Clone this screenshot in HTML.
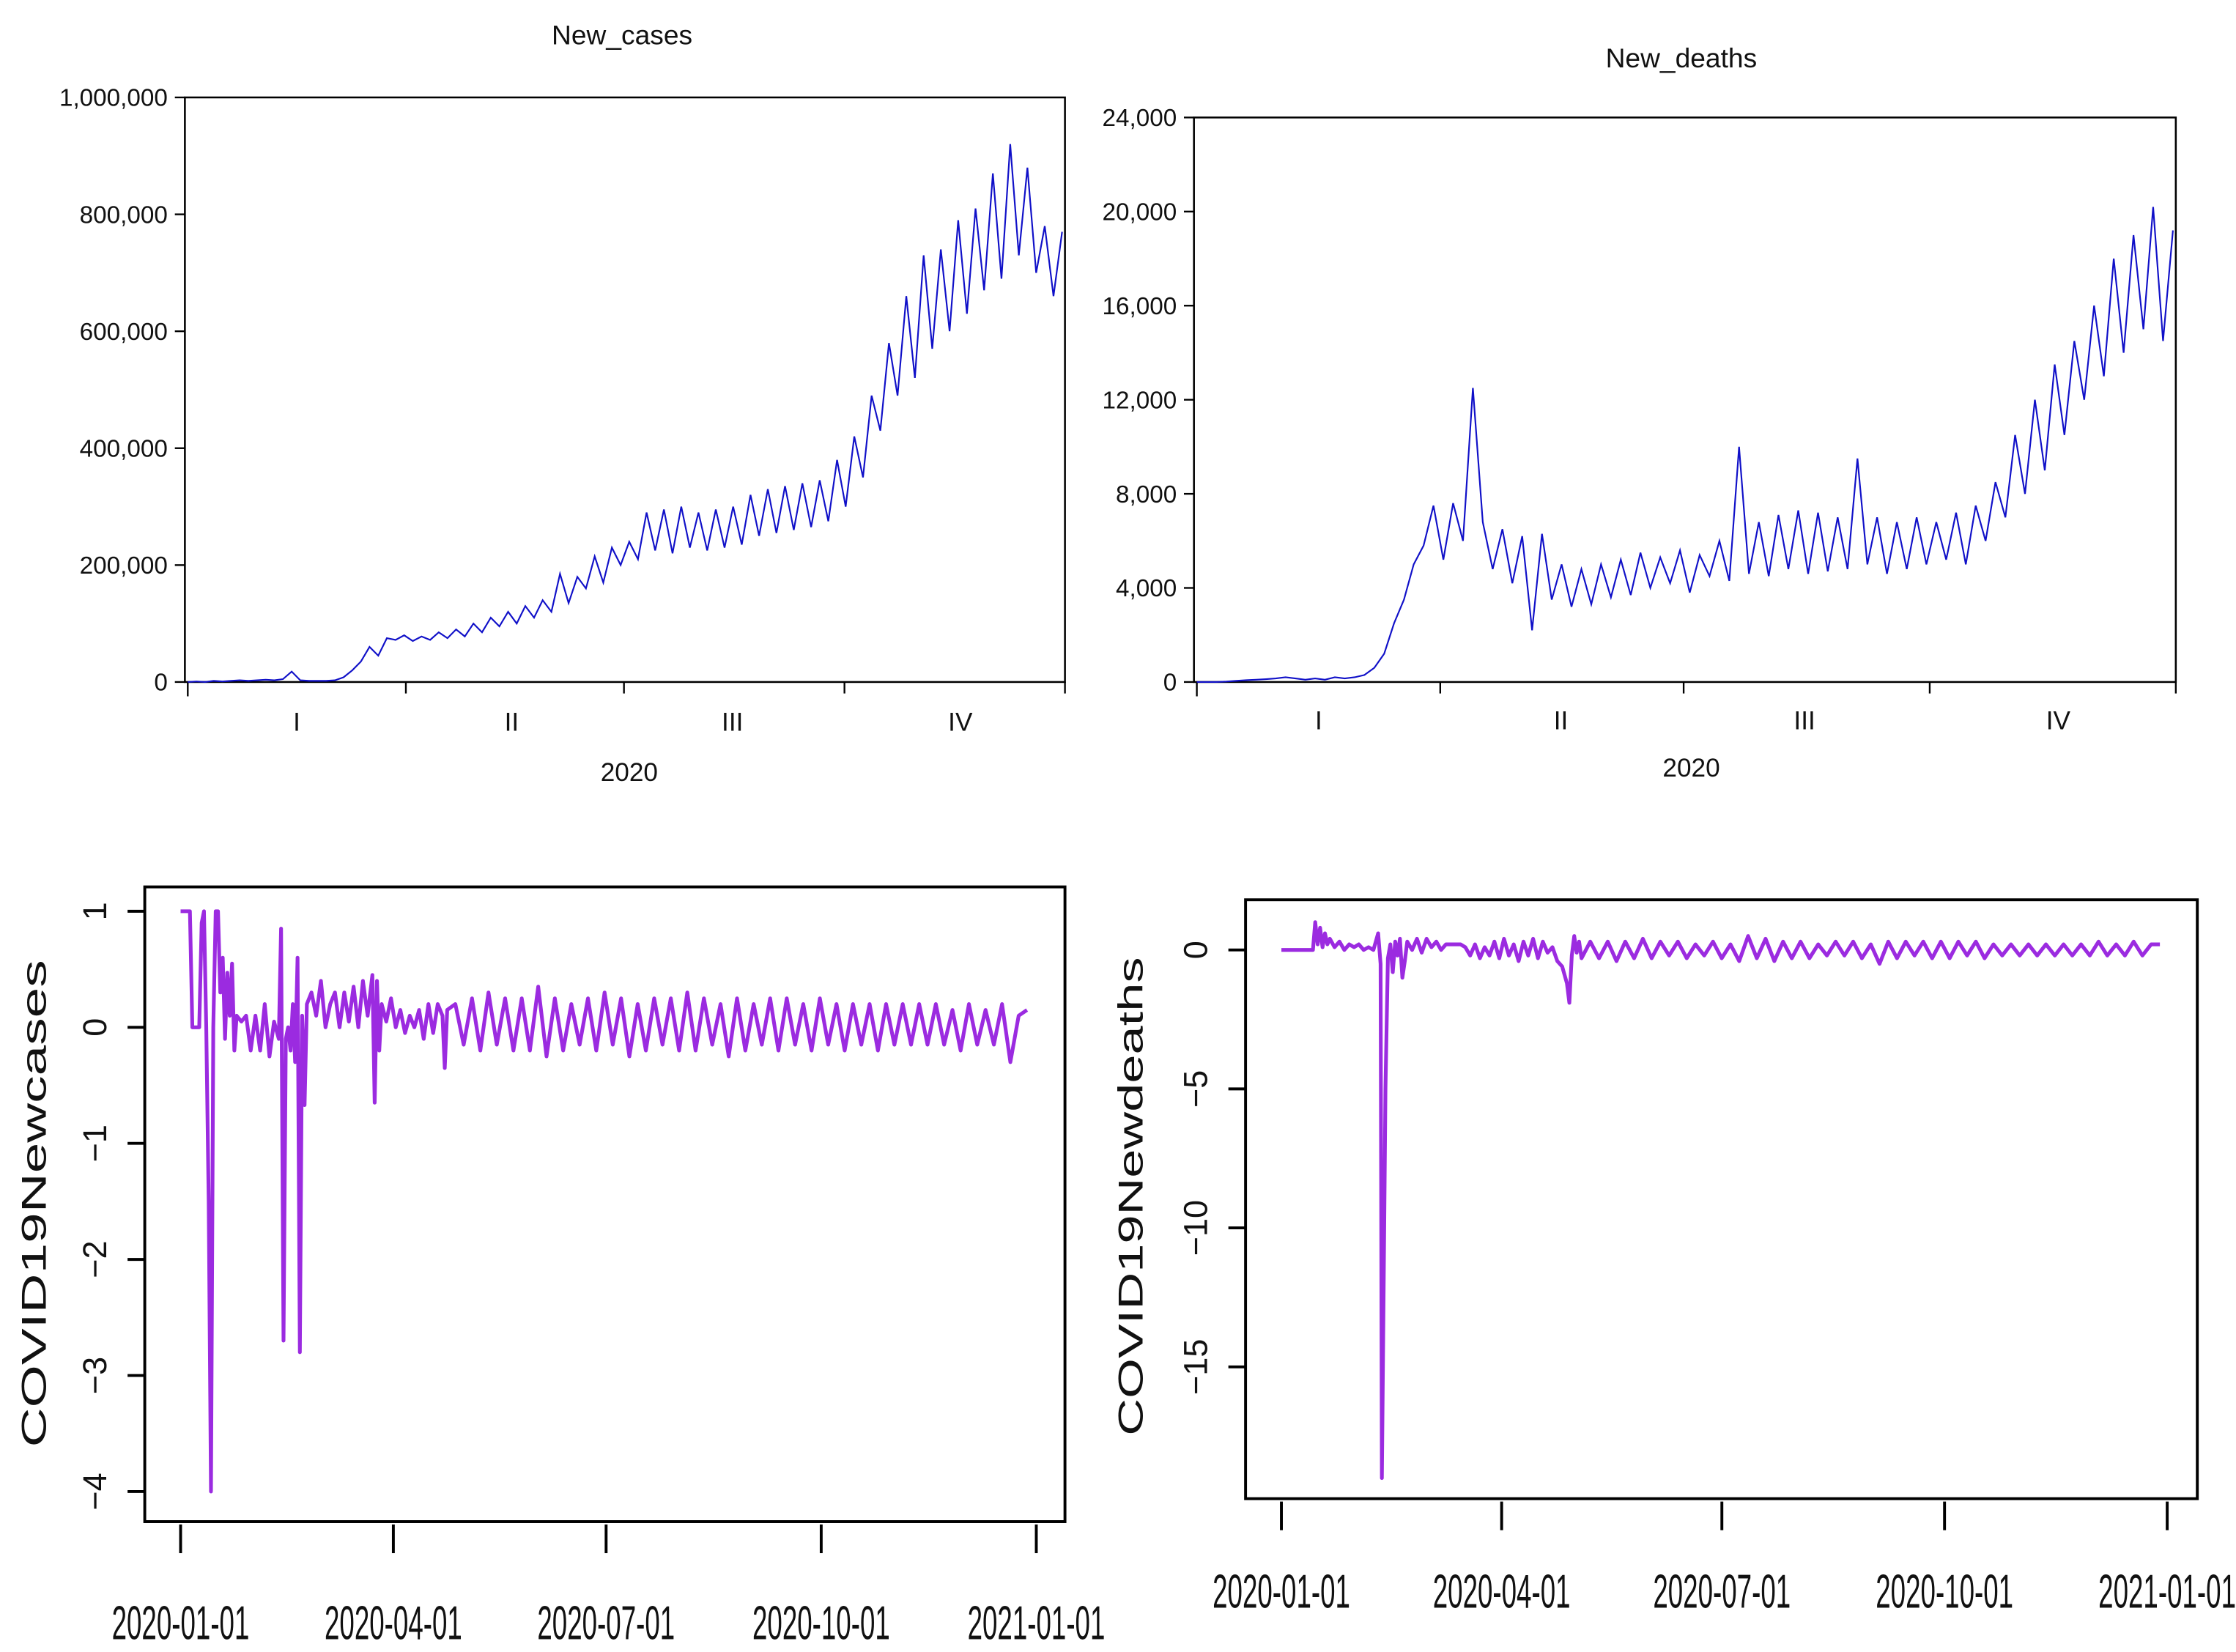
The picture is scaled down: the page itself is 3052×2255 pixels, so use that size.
<!DOCTYPE html>
<html><head><meta charset="utf-8"><title>COVID-19 charts</title>
<style>html,body{margin:0;padding:0;background:#fff}svg{display:block}text{font-family:"Liberation Sans",sans-serif;fill:#111}</style>
</head><body>
<svg id="fig" xmlns="http://www.w3.org/2000/svg" width="3052" height="2255" viewBox="0 0 1560 1153" preserveAspectRatio="none">
<rect width="1560" height="1153" fill="#fff"/>
<g id="p1"></g>
<g id="p2"></g>
<g id="p3"></g>
<g id="p4"></g>
</svg>
<script>
// ---- data ----
const casesVals = [0,1,0,2,1,2,3,2,3,4,3,5,18,3,2,2,2,3,8,20,35,60,45,75,72,80,70,78,72,85,75,90,78,100,85,110,95,120,100,130,110,140,120,185,135,180,160,215,170,230,200,240,210,290,225,295,220,300,230,290,225,295,230,300,235,320,250,330,255,335,260,340,265,345,275,380,300,420,350,490,430,580,490,660,520,730,570,740,600,790,630,810,670,870,690,920,730,880,700,780,660,770];
const casesTicks = [0,200000,400000,600000,800000,1000000];
const casesTickLabels = ["0","200,000","400,000","600,000","800,000","1,000,000"];
const deathsVals = [0,0,0,20,50,80,100,120,150,200,150,100,150,100,200,150,200,300,600,1200,2500,3500,5000,5800,7500,5200,7600,6000,12500,6800,4800,6500,4200,6200,2200,6300,3500,5000,3200,4800,3300,5000,3600,5200,3700,5500,4000,5300,4200,5600,3800,5400,4500,6000,4300,10000,4600,6800,4500,7100,4800,7300,4600,7200,4700,7000,4800,9500,5000,7000,4600,6800,4800,7000,5000,6800,5200,7200,5000,7500,6000,8500,7000,10500,8000,12000,9000,13500,10500,14500,12000,16000,13000,18000,14000,19000,15000,20200,14500,19200];
const deathsTicks = [0,4000,8000,12000,16000,20000,24000];
const deathsTickLabels = ["0","4,000","8,000","12,000","16,000","20,000","24,000"];
const quarterLabels = ["I","II","III","IV"];
const quarterStartDays = [0,91,182,274,366];
const dateLabels = ["2020-01-01","2020-04-01","2020-07-01","2020-10-01","2021-01-01"];
const dateTickDays = [0,91,182,274,366];
const ncDays = [0,4,5,8,9,10,11,12,13,14,15,16,17,18,19,20,21,22,23,24,26,28,30,32,34,36,38,40,42,43,44,45,46,47,48,49,50,51,52,53,54,56,58,60,62,64,66,68,70,72,74,76,78,80,82,83,84,85,86,88,90,92,94,96,98,100,102,104,106,108,110,112,113,114];
const ncVals = [1,1,0,0,0.9,1,0,-1.5,-4,0,1,1,0.3,0.6,-0.1,0.47,0.1,0.55,-0.2,0.1,0.05,0.1,-0.2,0.1,-0.2,0.2,-0.25,0.05,-0.1,0.85,-2.7,-0.1,0,-0.2,0.2,-0.3,0.6,-2.8,0.1,-0.67,0.2,0.3,0.1,0.4,0,0.2,0.3,0,0.3,0.05,0.35,0,0.4,0.1,0.45,-0.65,0.4,-0.2,0.2,0.05,0.25,0,0.15,-0.05,0.1,0,0.15,-0.1,0.2,-0.05,0.2,0.1,-0.35,0.15];
const ncTailVals = [0.2,-0.15,0.25,-0.2,0.3,-0.15,0.25,-0.2,0.25,-0.2,0.35,-0.25,0.25,-0.2,0.2,-0.15,0.25,-0.2,0.3,-0.15,0.25,-0.25,0.2,-0.2,0.25,-0.15,0.25,-0.2,0.3,-0.2,0.25,-0.15,0.2,-0.25,0.25,-0.2,0.2,-0.15,0.25,-0.2,0.25,-0.15,0.2,-0.2,0.25,-0.15,0.2,-0.2,0.2,-0.15,0.2,-0.2,0.2,-0.15,0.2,-0.15,0.2,-0.15,0.2,-0.15,0.15,-0.2,0.2,-0.15,0.15,-0.15,0.2,-0.3,0.1,0.15];
const ncTicks = [1,0,-1,-2,-3,-4];
const ndDays = [0,13,14,15,16,17,18,19,20,22,24,26,28,30,32,34,36,38,40,41,41.5,42.5,43,44,45,46,47,48,49,50,51,52,54,56,58,60,62,64,66,68,70,72,74,76,78,80,82,84,86,88,90,92,94,96,98,100,102,104,106,108,110,112,114,116,118,119,120,121,122,123,124];
const ndVals = [0,0,1,0.2,0.8,0.1,0.6,0.2,0.4,0.1,0.3,0,0.2,0.1,0.2,0,0.1,0,0.6,-0.5,-19,-9.6,-5,-0.3,0.2,-0.8,0.3,-0.2,0.4,-1,-0.4,0.3,0,0.4,-0.1,0.4,0.1,0.3,0,0.2,0.2,0.2,0.2,0.1,-0.2,0.2,-0.3,0.1,-0.2,0.3,-0.3,0.4,-0.2,0.2,-0.4,0.3,-0.2,0.4,-0.3,0.3,-0.1,0.1,-0.4,-0.6,-1.2,-1.9,-0.2,0.5,-0.1,0.3,-0.3];
const ndTailVals = [0.3,-0.3,0.3,-0.4,0.3,-0.3,0.4,-0.3,0.3,-0.2,0.3,-0.3,0.2,-0.2,0.3,-0.3,0.2,-0.4,0.5,-0.3,0.4,-0.4,0.3,-0.3,0.3,-0.3,0.2,-0.2,0.3,-0.2,0.3,-0.3,0.2,-0.5,0.3,-0.3,0.3,-0.2,0.3,-0.3,0.3,-0.3,0.3,-0.2,0.3,-0.3,0.2,-0.2,0.2,-0.2,0.2,-0.2,0.2,-0.2,0.2,-0.2,0.2,-0.2,0.3,-0.2,0.2,-0.2,0.3,-0.2,0.2,0.2];
const ndTicks = [0,-5,-10,-15];

const NS = "http://www.w3.org/2000/svg";
function mk(parent, tag, attrs, txt){
  const e = document.createElementNS(NS, tag);
  for (const k in attrs) e.setAttribute(k, attrs[k]);
  if (txt !== undefined) e.textContent = txt;
  parent.appendChild(e);
  return e;
}
function lin(d0,d1,r0,r1){ return v => r0 + (v-d0)/(d1-d0)*(r1-r0); }

// ---------- Top panels ----------
function topPanel(g, o){
  const X = lin(0,365,o.x0+2,o.x1-2), Y = lin(0,o.ymax,o.yb,o.yt);
  let e = mk(g,'rect',{x:o.x0,y:o.yt,width:o.x1-o.x0,height:o.yb-o.yt,fill:'none',stroke:'#000','stroke-width':1.3});
  
  
  e = mk(g,'text',{x:o.tx,y:o.ty,'text-anchor':'middle','font-size':19},o.title);
  
  
  o.ticks.forEach((t,i)=>{
    const y = Y(t);
    let l = mk(g,'line',{x1:o.x0-7,x2:o.x0,y1:y,y2:y,stroke:'#000','stroke-width':1.2});
    
    
    let t2 = mk(g,'text',{x:o.x0-12,y:y+6,'text-anchor':'end','font-size':17},o.labels[i]);
    
    
  });
  const QX = lin(0,366,o.x0+2,o.x1);
  quarterStartDays.forEach((d,i)=>{
    const x = QX(d);
    let l = mk(g,'line',{x1:x,x2:x,y1:o.yb,y2:o.yb+(i==0?10:8),stroke:'#000','stroke-width':1.2});
    
    
    if (i<4){
      const xm = o.qlx[i];
      let t = mk(g,'text',{x:xm,y:o.qly,'text-anchor':'middle','font-size':18},quarterLabels[i]);
      
      
    }
  });
  e = mk(g,'text',{x:o.yrx,y:o.yry,'text-anchor':'middle','font-size':18},'2020');
  
  
  const n = o.vals.length;
  const pts = o.vals.map((v,i)=>X(i*365/(n-1)).toFixed(1)+','+Y(v*o.mult).toFixed(1)).join(' ');
  e = mk(g,'polyline',{points:pts,fill:'none',stroke:'#1010c8','stroke-width':1.1});
  
  
}
topPanel(document.getElementById('p1'),{x0:129,x1:743,yt:68,yb:476,ymax:1000000,ticks:casesTicks,labels:casesTickLabels,
  title:'New_cases',tx:434,ty:31,vals:casesVals,mult:1000,qlx:[207,357,511,670],qly:510,yrx:439,yry:545});
topPanel(document.getElementById('p2'),{x0:833,x1:1518,yt:82,yb:476,ymax:24000,ticks:deathsTicks,labels:deathsTickLabels,
  title:'New_deaths',tx:1173,ty:47,vals:deathsVals,mult:1,qlx:[920,1089,1259,1436],qly:509,yrx:1180,yry:542});

// ---------- Bottom panels ----------
function botPanel(g, o){
  const X = lin(0,366,o.dx0,o.dx1), Y = lin(o.v0,o.v1,o.y0,o.y1);
  let e = mk(g,'rect',{x:o.x0,y:o.yt,width:o.x1-o.x0,height:o.yb-o.yt,fill:'none',stroke:'#000','stroke-width':2});
  
  
  o.ticks.forEach(t=>{
    const y = Y(t);
    let l = mk(g,'line',{x1:o.x0-12,x2:o.x0,y1:y,y2:y,stroke:'#000','stroke-width':2});
    
    
    let tx = mk(g,'text',{x:o.ylx,y:y,'text-anchor':'middle','font-size':23,transform:`rotate(-90 ${o.ylx} ${y})`},String(t).replace('-','\u2212'));
    
    
  });
  dateTickDays.forEach((d,i)=>{
    const x = X(d);
    let l = mk(g,'line',{x1:x,x2:x,y1:o.yb+2,y2:o.yb+22,stroke:'#000','stroke-width':2});
    
    
    let t = mk(g,'text',{x:x,y:o.dly,'text-anchor':'middle','font-size':33,textLength:96,lengthAdjust:'spacingAndGlyphs'},dateLabels[i]);
    
    
  });
  e = mk(g,'text',{x:o.tlx,y:o.tly,'text-anchor':'middle','font-size':24,textLength:o.tlen,lengthAdjust:'spacingAndGlyphs',transform:`rotate(-90 ${o.tlx} ${o.tly})`},o.title);
  
  
  const days = o.days.slice(), vals = o.vals.slice();
  const last = days[days.length-1], n = o.tail.length;
  o.tail.forEach((v,i)=>{ days.push(last + (i+1)*(o.tailEnd-last)/n); vals.push(v); });
  const pts = days.map((d,i)=>X(d).toFixed(1)+','+Y(vals[i]).toFixed(1)).join(' ');
  e = mk(g,'polyline',{points:pts,fill:'none',stroke:'#9b2be0','stroke-width':2.6,'stroke-linejoin':'round'});
  
  
}
botPanel(document.getElementById('p3'),{x0:101,x1:743,yt:619,yb:1062,dx0:126,dx1:723,v0:0,v1:1,y0:717,y1:636,
  ticks:ncTicks,ylx:74,dly:1144,title:'COVID19Newcases',tlx:32,tly:840,tlen:340,days:ncDays,vals:ncVals,tail:ncTailVals,tailEnd:362});
botPanel(document.getElementById('p4'),{x0:869,x1:1533,yt:628,yb:1046,dx0:894,dx1:1512,v0:0,v1:-5,y0:663,y1:760,
  ticks:ndTicks,ylx:842,dly:1122,title:'COVID19Newdeaths',tlx:797,tly:835,tlen:334,days:ndDays,vals:ndVals,tail:ndTailVals,tailEnd:363});
</script>
</body></html>
